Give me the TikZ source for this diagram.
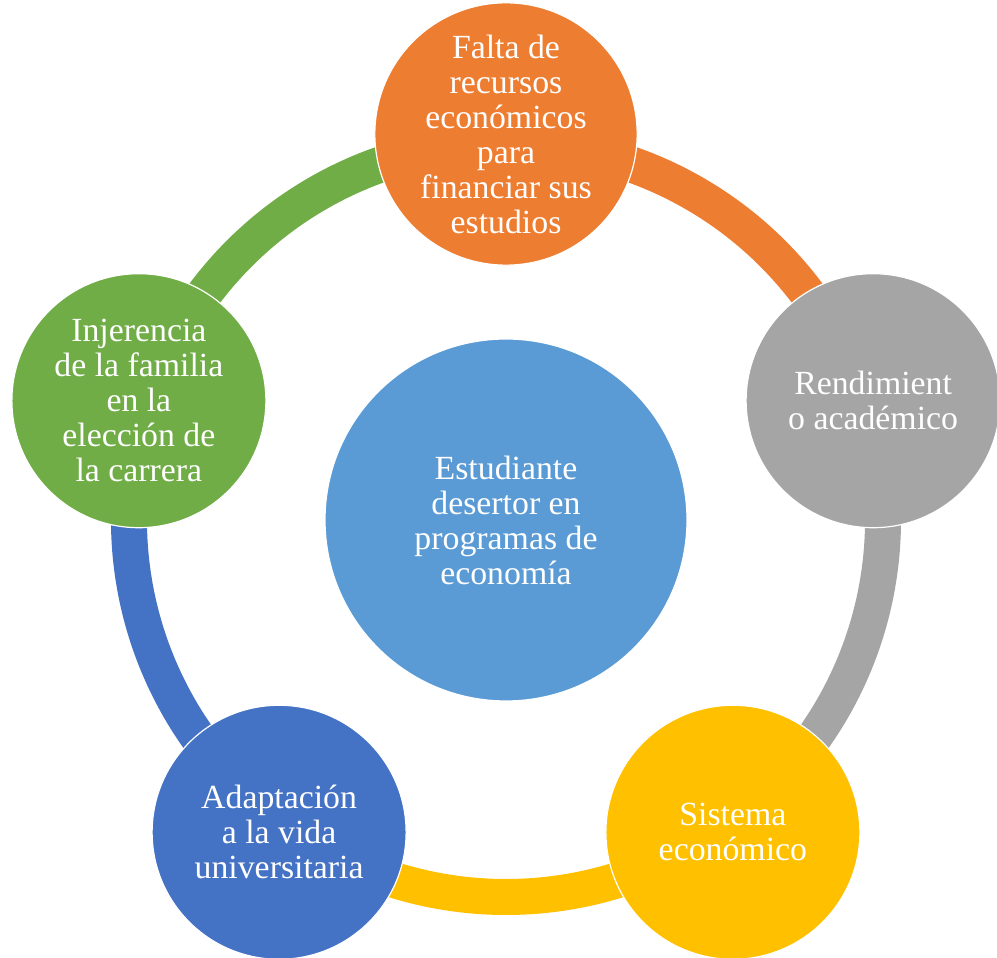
\documentclass[tikz,border=0pt]{standalone}
\usepackage{fontspec}
\setmainfont{Liberation Serif}
\definecolor{cycOrange}{HTML}{ED7D31}
\definecolor{cycGray}{HTML}{A5A5A5}
\definecolor{cycGold}{HTML}{FFC000}
\definecolor{cycBlue}{HTML}{4472C4}
\definecolor{cycGreen}{HTML}{70AD47}
\definecolor{cycCenter}{HTML}{5B9BD5}
\begin{document}
\begin{tikzpicture}[
    x=1pt, y=1pt,
    disc/.style={circle, draw=white, line width=1.2pt, inner sep=0pt, align=center, text=white, font=\fontsize{33.8}{35}\selectfont},
    item/.style={disc, minimum size=254pt},
    hub/.style={disc, minimum size=362pt, fill=cycCenter},
    ringarc/.style={line width=36pt}
]
\useasboundingbox (0,0) rectangle (997,958);
\coordinate (mid) at (506,438);

% ring segments, one per outer circle
\draw[ringarc, cycOrange] (mid) ++(90:377) arc[start angle=90, end angle=18, radius=377];
\draw[ringarc, cycGray] (mid) ++(18:377) arc[start angle=18, end angle=-54, radius=377];
\draw[ringarc, cycGold] (mid) ++(-54:377) arc[start angle=-54, end angle=-126, radius=377];
\draw[ringarc, cycBlue] (mid) ++(-126:377) arc[start angle=-126, end angle=-198, radius=377];
\draw[ringarc, cycGreen] (mid) ++(162:377) arc[start angle=162, end angle=90, radius=377];

\node[hub] (student) at (mid) {Estudiante\\desertor en\\programas de\\economía};
\node[item, fill=cycOrange] (funds) at ([shift={(90:386)}]mid) {Falta de\\recursos\\económicos\\para\\financiar sus\\estudios};
\node[item, fill=cycGray] (grades) at ([shift={(18:386)}]mid) {Rendimient\\o académico};
\node[item, fill=cycGold] (economy) at ([shift={(-54:386)}]mid) {Sistema\\económico};
\node[item, fill=cycBlue] (campus) at ([shift={(-126:386)}]mid) {Adaptación\\a la vida\\universitaria};
\node[item, fill=cycGreen] (family) at ([shift={(162:386)}]mid) {Injerencia\\de la familia\\en la\\elección de\\la carrera};
\end{tikzpicture}
\end{document}
